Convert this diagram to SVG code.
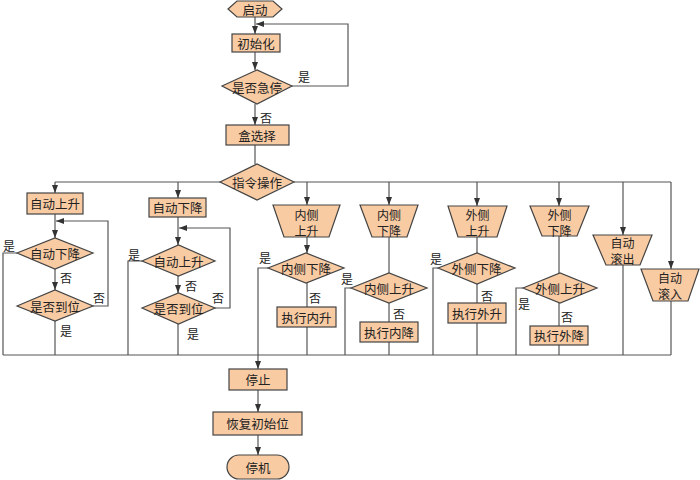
<svg xmlns="http://www.w3.org/2000/svg" width="700" height="480" viewBox="0 0 700 480">
<defs>
<marker id="ah" viewBox="0 0 8 6" refX="8" refY="3" markerWidth="8" markerHeight="6" markerUnits="userSpaceOnUse" orient="auto">
<path d="M0,0 L8,3 L0,6 Z" fill="#333"/>
</marker>
<style>
.n{fill:#F9CBA3;stroke:#444;stroke-width:1.2}
.t{font-family:"Noto Sans CJK SC","Noto Sans CJK JP",sans-serif;font-size:12.5px;fill:#222;text-anchor:middle;dominant-baseline:central}
.t2{font-family:"Noto Sans CJK SC","Noto Sans CJK JP",sans-serif;font-size:12px;fill:#222;text-anchor:middle;dominant-baseline:central}
.l{font-family:"Noto Sans CJK SC","Noto Sans CJK JP",sans-serif;font-size:12px;fill:#222;text-anchor:middle;dominant-baseline:central}
.c{fill:none;stroke:#555;stroke-width:1.2}
.a{marker-end:url(#ah)}
</style>
</defs>
<rect width="700" height="480" fill="#fff"/>
<g id="connectors">
<path class="c a" d="M255,17 V34"/>
<path class="c a" d="M255,52 V70"/>
<path class="c a" d="M292,86 H348 V24 H256"/>
<path class="c a" d="M255,104 V125"/>
<path class="c" d="M255,145 V164"/>
<path class="c" d="M220,182 H55"/>
<path class="c a" d="M55,182 V193"/>
<path class="c a" d="M178,182 V198"/>
<path class="c" d="M294,182 H671"/>
<path class="c a" d="M307,182 V205"/>
<path class="c a" d="M389,182 V205"/>
<path class="c a" d="M477,182 V206"/>
<path class="c a" d="M559,182 V206"/>
<path class="c a" d="M623,182 V235"/>
<path class="c a" d="M671,182 V269"/>
<path class="c a" d="M55,214 V238"/>
<path class="c a" d="M93,306 H108 V221 H56"/>
<path class="c a" d="M55,269 V290"/>
<path class="c" d="M55,321 V355"/>
<path class="c" d="M17,253 H3 V355"/>
<path class="c a" d="M178,217 V245"/>
<path class="c a" d="M215,308 H230 V228 H179"/>
<path class="c a" d="M178,276 V293"/>
<path class="c" d="M178,324 V355"/>
<path class="c" d="M142,261 H128 V355"/>
<path class="c a" d="M307,237 V253"/>
<path class="c" d="M268,268 H258 V355"/>
<path class="c" d="M307,283 V307"/>
<path class="c" d="M307,327 V355"/>
<path class="c" d="M389,237 V273"/>
<path class="c" d="M351,288 H345 V355"/>
<path class="c" d="M389,303 V322"/>
<path class="c" d="M389,342 V355"/>
<path class="c" d="M477,237 V253"/>
<path class="c" d="M438,268 H433 V355"/>
<path class="c" d="M477,284 V303"/>
<path class="c" d="M477,323 V355"/>
<path class="c" d="M559,236 V273"/>
<path class="c" d="M523,288 H516 V355"/>
<path class="c" d="M559,303 V326"/>
<path class="c" d="M559,345 V355"/>
<path class="c" d="M623,265 V355"/>
<path class="c" d="M671,301 V355"/>
<path class="c" d="M3,355 H671"/>
<path class="c a" d="M258,355 V369"/>
<path class="c a" d="M258,390 V412"/>
<path class="c a" d="M258,435 V455"/>
</g>
<g id="edge-labels">
<text class="l" x="304" y="76">是</text>
<text class="l" x="266" y="117">否</text>
<text class="l" x="9" y="245">是</text>
<text class="l" x="66" y="277">否</text>
<text class="l" x="99" y="297">否</text>
<text class="l" x="66" y="330">是</text>
<text class="l" x="134" y="254">是</text>
<text class="l" x="191" y="285">否</text>
<text class="l" x="218" y="297">否</text>
<text class="l" x="193" y="333">是</text>
<text class="l" x="265" y="257">是</text>
<text class="l" x="315" y="297">否</text>
<text class="l" x="347" y="278">是</text>
<text class="l" x="399" y="313">否</text>
<text class="l" x="436" y="258">是</text>
<text class="l" x="487" y="295">否</text>
<text class="l" x="524" y="303">是</text>
<text class="l" x="567" y="316">否</text>
</g>
<g id="start"><path class="n" d="M228,9 L237,1 H273 L282,9 L273,17 H237 Z"/><text class="t" x="255" y="9">启动</text></g>
<g id="init"><rect class="n" x="232" y="34" width="48" height="18"/><text class="t" x="256" y="43">初始化</text></g>
<g id="estop"><path class="n" d="M222,86 L257,70 L292,86 L257,104 Z"/><text class="t" x="257" y="87">是否急停</text></g>
<g id="boxsel"><rect class="n" x="226" y="125" width="63" height="20"/><text class="t" x="257" y="135">盒选择</text></g>
<g id="cmd"><path class="n" d="M220,182 L257,164 L294,182 L257,200 Z"/><text class="t" x="257" y="182">指令操作</text></g>
<g id="autoup"><rect class="n" x="27" y="193" width="56" height="21"/><text class="t" x="55" y="203.5">自动上升</text></g>
<g id="c1d1"><path class="n" d="M17,253 L55,238 L93,253 L55,269 Z"/><text class="t" x="55" y="253.5">自动下降</text></g>
<g id="c1d2"><path class="n" d="M17,306 L55,290 L93,306 L55,321 Z"/><text class="t" x="55" y="306">是否到位</text></g>
<g id="autodown"><rect class="n" x="149" y="198" width="57" height="19"/><text class="t" x="177.5" y="207.5">自动下降</text></g>
<g id="c2d1"><path class="n" d="M142,261 L178.5,245 L215,261 L178.5,276 Z"/><text class="t" x="178.5" y="261">自动上升</text></g>
<g id="c2d2"><path class="n" d="M142,308 L178.5,293 L215,308 L178.5,324 Z"/><text class="t" x="178.5" y="308.5">是否到位</text></g>
<g id="innerup"><path class="n" d="M273,205 H340 L329,237 H284 Z"/><text class="t2" x="306.5" y="214">内侧<tspan x="306.5" dy="15.5">上升</tspan></text></g>
<g id="c3d"><path class="n" d="M268,268 L306,253 L344,268 L306,283 Z"/><text class="t" x="306" y="268">内侧下降</text></g>
<g id="doinup"><rect class="n" x="277" y="307" width="59" height="20"/><text class="t" x="306.5" y="317">执行内升</text></g>
<g id="innerdown"><path class="n" d="M360,205 H418 L407,237 H372 Z"/><text class="t2" x="389" y="214">内侧<tspan x="389" dy="15.5">下降</tspan></text></g>
<g id="c4d"><path class="n" d="M351,288 L389,273 L427,288 L389,303 Z"/><text class="t" x="389" y="288">内侧上升</text></g>
<g id="doindown"><rect class="n" x="360" y="322" width="58" height="20"/><text class="t" x="389" y="332">执行内降</text></g>
<g id="outerup"><path class="n" d="M448,206 H507 L497,237 H458 Z"/><text class="t2" x="477.5" y="214">外侧<tspan x="477.5" dy="15.5">上升</tspan></text></g>
<g id="c5d"><path class="n" d="M438,268 L477,253 L515,268 L477,284 Z"/><text class="t" x="476.5" y="268.5">外侧下降</text></g>
<g id="dooutup"><rect class="n" x="448" y="303" width="58" height="20"/><text class="t" x="477" y="313">执行外升</text></g>
<g id="outerdown"><path class="n" d="M530,206 H589 L577,236 H542 Z"/><text class="t2" x="559.5" y="214">外侧<tspan x="559.5" dy="15.5">下降</tspan></text></g>
<g id="c6d"><path class="n" d="M523,288 L560,273 L597,288 L560,303 Z"/><text class="t" x="560" y="288">外侧上升</text></g>
<g id="dooutdown"><rect class="n" x="530" y="326" width="58" height="19"/><text class="t" x="559" y="335.5">执行外降</text></g>
<g id="rollout"><path class="n" d="M593,235 H652 L640,265 H606 Z"/><text class="t2" x="622.5" y="242.5">自动<tspan x="622.5" dy="15.5">滚出</tspan></text></g>
<g id="rollin"><path class="n" d="M641,269 H699 L688,301 H653 Z"/><text class="t2" x="670" y="277.5">自动<tspan x="670" dy="15.5">滚入</tspan></text></g>
<g id="stop"><rect class="n" x="229" y="369" width="58" height="21"/><text class="t" x="258" y="379.5">停止</text></g>
<g id="reset"><rect class="n" x="213" y="412" width="89" height="23"/><text class="t" x="257.5" y="423.5">恢复初始位</text></g>
<g id="halt"><rect class="n" x="227" y="455" width="62" height="24" rx="12" ry="12"/><text class="t" x="258" y="467">停机</text></g>
</svg>
